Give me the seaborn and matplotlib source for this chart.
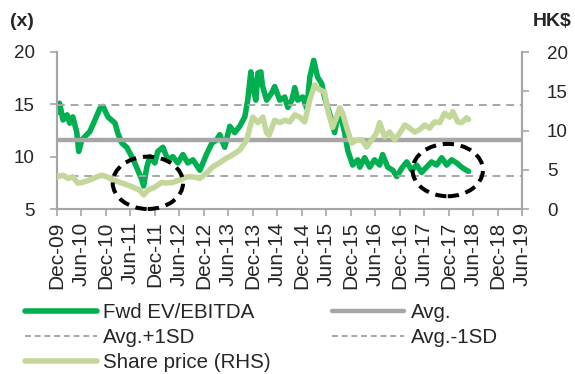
import pandas as pd
import matplotlib
matplotlib.use("Agg")
import matplotlib.pyplot as plt
from matplotlib.patches import Ellipse
from matplotlib.lines import Line2D
from matplotlib.transforms import blended_transform_factory
import seaborn as sns

# Forward EV/EBITDA multiple (x)
ev_dates = [
    "2009-12-01", "2009-12-20", "2010-01-15", "2010-02-14", "2010-03-06", "2010-03-29",
    "2010-04-28", "2010-05-12", "2010-06-04", "2010-07-11", "2010-08-03", "2010-09-10",
    "2010-10-17", "2010-11-09", "2010-12-16", "2011-02-07", "2011-03-01", "2011-03-29",
    "2011-05-05", "2011-06-12", "2011-07-04", "2011-07-27", "2011-08-26", "2011-09-08",
    "2011-10-02", "2011-10-25", "2011-12-01", "2011-12-23", "2012-01-30", "2012-03-07",
    "2012-04-13", "2012-05-20", "2012-06-27", "2012-08-03", "2012-09-10", "2012-11-01",
    "2012-12-23", "2013-01-30", "2013-03-07", "2013-03-29", "2013-05-05", "2013-06-12",
    "2013-07-19", "2013-08-25", "2013-10-02", "2013-10-24", "2013-11-16", "2013-12-01",
    "2013-12-23", "2014-01-08", "2014-01-30", "2014-02-10", "2014-03-14", "2014-04-21",
    "2014-05-13", "2014-06-20", "2014-07-27", "2014-08-19", "2014-09-18", "2014-10-10",
    "2014-11-01", "2014-12-08", "2015-01-08", "2015-01-30", "2015-02-28", "2015-03-29",
    "2015-04-28", "2015-05-20", "2015-06-12", "2015-07-11", "2015-08-03", "2015-08-26",
    "2015-09-25", "2015-10-17", "2015-11-09", "2015-12-16", "2016-01-22", "2016-02-07",
    "2016-03-14", "2016-04-21", "2016-05-27", "2016-07-04", "2016-07-26", "2016-09-02",
    "2016-10-10", "2016-11-09", "2016-12-16", "2017-01-22", "2017-02-28", "2017-04-06",
    "2017-05-13", "2017-06-19", "2017-07-26", "2017-09-02", "2017-10-10", "2017-11-16",
    "2017-12-23", "2018-01-30", "2018-03-07", "2018-04-13", "2018-04-28",
]
ev_values = [
    14.2, 15.1, 13.5, 14.0, 13.2, 13.8,
    12.3, 10.5, 11.6, 12.1, 12.4, 13.5,
    14.6, 14.8, 13.8, 13.2, 12.2, 11.3,
    10.9, 10.0, 9.4, 8.7, 7.8, 7.2,
    9.0, 10.0, 9.4, 10.5, 10.9, 9.7,
    10.0, 9.4, 10.2, 9.4, 9.7, 8.7,
    10.3, 11.3, 11.6, 12.1, 10.9, 12.9,
    12.3, 12.9, 13.8, 15.4, 18.1, 16.7,
    15.4, 18.0, 18.1, 16.8, 15.4, 16.1,
    16.7, 15.4, 15.7, 14.7, 15.4, 16.6,
    15.4, 15.7, 14.6, 17.6, 19.2, 17.6,
    17.0, 15.7, 14.7, 13.5, 12.3, 13.8,
    13.5, 12.3, 10.6, 9.2, 9.7, 9.0,
    9.9, 9.0, 9.7, 9.2, 10.2, 9.0,
    8.7, 8.1, 8.9, 9.5, 8.7, 9.2,
    8.5, 9.0, 9.5, 9.2, 9.9, 9.2,
    9.7, 9.4, 9.0, 8.7, 8.6,
]

# Share price (HK$, right-hand scale)
price_dates = [
    "2009-12-01", "2010-01-15", "2010-02-21", "2010-03-29", "2010-05-05", "2010-06-12",
    "2010-08-03", "2010-09-25", "2010-11-01", "2010-12-08", "2011-01-22", "2011-03-14",
    "2011-05-05", "2011-06-19", "2011-08-10", "2011-09-09", "2011-10-10", "2011-12-01",
    "2012-01-22", "2012-02-28", "2012-04-13", "2012-06-04", "2012-07-26", "2012-09-10",
    "2012-11-01", "2012-12-23", "2013-02-07", "2013-03-29", "2013-05-20", "2013-07-04",
    "2013-08-25", "2013-10-17", "2013-11-09", "2013-12-01", "2014-01-08", "2014-02-14",
    "2014-03-14", "2014-04-01", "2014-05-13", "2014-06-20", "2014-07-27", "2014-09-02",
    "2014-10-10", "2014-11-16", "2014-12-23", "2015-01-30", "2015-03-07", "2015-04-13",
    "2015-05-20", "2015-06-12", "2015-07-19", "2015-08-18", "2015-09-10", "2015-10-02",
    "2015-11-01", "2015-12-08", "2016-01-15", "2016-02-21", "2016-03-29", "2016-05-05",
    "2016-06-12", "2016-07-04", "2016-08-10", "2016-09-17", "2016-10-25", "2016-12-01",
    "2017-01-08", "2017-02-14", "2017-03-22", "2017-04-28", "2017-06-04", "2017-07-11",
    "2017-08-18", "2017-09-25", "2017-11-01", "2017-12-08", "2017-12-31", "2018-02-07",
    "2018-03-07", "2018-04-13", "2018-04-28",
]
price_values = [
    4.1, 4.3, 3.9, 4.1, 3.3, 3.4,
    3.7, 4.1, 4.3, 4.1, 3.7, 3.4,
    3.1, 2.8, 2.4, 1.8, 2.4, 2.8,
    3.4, 3.3, 3.4, 3.7, 4.1, 4.1,
    3.9, 4.6, 5.4, 5.9, 6.5, 6.9,
    7.5, 8.8, 10.4, 11.7, 11.0, 11.7,
    9.7, 9.4, 11.3, 11.0, 11.3, 11.1,
    12.0, 11.7, 11.1, 13.9, 15.8, 15.2,
    14.9, 12.6, 10.4, 11.7, 12.9, 12.2,
    10.4, 8.4, 8.8, 8.8, 7.9, 8.8,
    9.7, 11.0, 9.2, 9.8, 8.8, 9.7,
    10.7, 10.3, 9.8, 10.1, 10.7, 10.3,
    11.1, 11.0, 12.2, 11.7, 12.4, 11.1,
    11.0, 11.6, 11.4,
]

# Historical average and +/- one standard deviation of the multiple
avg_multiple = 11.55
plus_1sd = 14.95
minus_1sd = 8.15

tick_labels = [
    "Dec-09", "Jun-10", "Dec-10", "Jun-11", "Dec-11", "Jun-12", "Dec-12",
    "Jun-13", "Dec-13", "Jun-14", "Dec-14", "Jun-15", "Dec-15", "Jun-16",
    "Dec-16", "Jun-17", "Dec-17", "Jun-18", "Dec-18", "Jun-19",
]

GREEN = "#00B050"
LIGHT_GREEN = "#C4D79B"
GREY = "#A6A6A6"

sns.set_theme(style="white")
plt.rcParams["font.family"] = ["Liberation Sans", "DejaVu Sans"]

ev_df = pd.DataFrame({"date": pd.to_datetime(ev_dates), "multiple": ev_values})
px_df = pd.DataFrame({"date": pd.to_datetime(price_dates), "price": price_values})
tick_pos = pd.to_datetime(tick_labels, format="%b-%y")

fig = plt.figure(figsize=(5.75, 3.74), dpi=100)
ax = fig.add_axes([57 / 575, 1 - 209 / 374, (522 - 57) / 575, (209 - 52) / 374])
ax2 = ax.twinx()

sns.lineplot(data=ev_df, x="date", y="multiple", ax=ax, color=GREEN,
             linewidth=4.0, estimator=None, legend=False)
sns.lineplot(data=px_df, x="date", y="price", ax=ax2, color=LIGHT_GREEN,
             linewidth=4.0, estimator=None, legend=False)

ax.set_xlim(tick_pos[0], tick_pos[-1])
ax.set_ylim(5, 20)
ax2.set_ylim(0, 20)
ax.set_yticks([5, 10, 15, 20])
ax2.set_yticks([0, 5, 10, 15, 20])
ax.set_xticks(tick_pos)
ax.set_xticklabels(tick_labels, rotation=90, fontsize=15)
ax.set_xlabel("")
ax.set_ylabel("")
ax2.set_ylabel("")
ax.tick_params(axis="y", labelsize=13.5, length=5, width=1.2, color=GREY, pad=11,
               direction="out", left=True)
ax.tick_params(axis="x", length=5, width=1.2, color=GREY, pad=4, direction="out",
               bottom=True)
ax2.tick_params(axis="y", labelsize=13.5, length=5, width=1.2, color=GREY, pad=13,
                direction="out", right=True)

for a in (ax, ax2):
    a.spines["top"].set_visible(False)
    for side in ("left", "right", "bottom"):
        a.spines[side].set_color(GREY)
        a.spines[side].set_linewidth(1.5)
    a.grid(False)

# Reference bands drawn on the top layer, scaled to the left axis
ref_tf = blended_transform_factory(ax2.transAxes, ax.transData)
ax2.plot([0, 1], [avg_multiple] * 2, transform=ref_tf, color=GREY, lw=3.2, zorder=3)
ax2.plot([0, 1], [plus_1sd] * 2, transform=ref_tf, color=GREY, lw=1.4,
         dashes=(4, 3), zorder=3)
ax2.plot([0, 1], [minus_1sd] * 2, transform=ref_tf, color=GREY, lw=1.4,
         dashes=(4, 3), zorder=3)
ax2.lines[0].set_zorder(4)

# Highlight circles around the trough periods
for cx, cy in [("2011-10-10", 7.5), ("2017-11-24", 8.72)]:
    x0 = ax.xaxis.convert_units(pd.Timestamp(cx))
    ell = Ellipse((x0, cy), width=525, height=5.0, transform=ax.transData,
                  fill=False, edgecolor="black", lw=2.9, linestyle=(0, (2.8, 1.7)),
                  clip_on=False, zorder=6)
    ax2.add_patch(ell)

fig.text(22 / 575, 1 - 22 / 374, "(x)", fontsize=14, fontweight="bold",
         ha="center", va="center")
fig.text(552 / 575, 1 - 22 / 374, "HK$", fontsize=14, fontweight="bold",
         ha="center", va="center")

handles = [
    Line2D([], [], color=GREEN, lw=4.0),
    Line2D([], [], color=GREY, lw=1.4, dashes=(3, 2)),
    Line2D([], [], color=LIGHT_GREEN, lw=4.0),
    Line2D([], [], color=GREY, lw=3.2),
    Line2D([], [], color=GREY, lw=1.4, dashes=(3, 2)),
]
labels = ["Fwd EV/EBITDA", "Avg.+1SD", "Share price (RHS)", "Avg.", "Avg.-1SD"]
fig.legend(handles, labels, loc="upper left", bbox_to_anchor=(25 / 575, 1 - 303 / 374),
           ncol=2, frameon=False, fontsize=14.8, handlelength=3.5, handletextpad=0.3,
           columnspacing=3.0, labelspacing=0.3, borderpad=0, borderaxespad=0)

fig.savefig("out.png", dpi=100)
